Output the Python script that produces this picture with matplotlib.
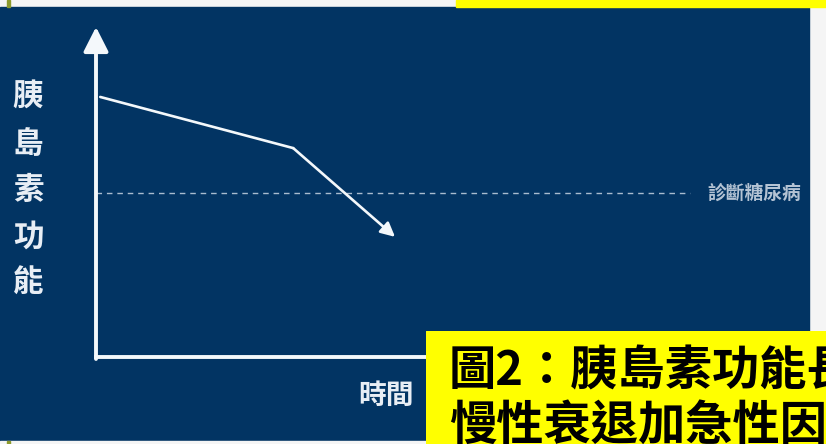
import matplotlib
matplotlib.use("Agg")
import matplotlib.pyplot as plt
from matplotlib.patches import Rectangle

plt.rcParams['font.family'] = ['Noto Sans CJK TC', 'DejaVu Sans']

# data (axis units 0..10)
time = [0.06, 2.77, 4.20]
insulin_function = [7.88, 6.33, 3.64]
diagnosis_level = 4.97
diagnosis_end = 8.34

y_label = "胰島素功能"
x_label = "時間"
threshold_label = "診斷糖尿病"
caption_lines = ["圖2：胰島素功能長期", "慢性衰退加急性因素"]

NAVY = '#023463'
W, H = 826, 444

fig = plt.figure(figsize=(W / 100, H / 100), dpi=100)
fig.patch.set_facecolor('#f5f5f5')

def fx(px):
    return px / W

def fy(py):
    return 1 - py / H

# navy panel
fig.patches.append(Rectangle((0, fy(444)), fx(809), fy(7) - fy(444),
                             transform=fig.transFigure, color=NAVY, zorder=0))
# top strip with yellow box and olive mark
fig.patches.append(Rectangle((fx(456), fy(7)), 1 - fx(456), fy(0) - fy(7),
                             transform=fig.transFigure, color='#ffff00', zorder=0))
fig.patches.append(Rectangle((fx(7), fy(7)), fx(3), fy(0) - fy(7),
                             transform=fig.transFigure, color='#8c9a2c', zorder=0))
fig.patches.append(Rectangle((0, fy(444)), fx(426), fy(441) - fy(444),
                             transform=fig.transFigure, color='#f5f5f5', zorder=1))
fig.patches.append(Rectangle((fx(7), fy(444)), fx(3), fy(441) - fy(444),
                             transform=fig.transFigure, color='#8c9a2c', zorder=1))

# main chart axes
ax = fig.add_axes([fx(96), fy(357), fx(808) - fx(96), fy(27) - fy(357)])
ax.set_zorder(2)
ax.set_facecolor('none')
ax.set_xlim(0, 10)
ax.set_ylim(0, 10)
ax.set_xticks([])
ax.set_yticks([])
for side in ['top', 'right', 'left']:
    ax.spines[side].set_visible(False)
ax.spines['bottom'].set_color('#f4f8fb')
ax.spines['bottom'].set_linewidth(2.8)

# y axis with arrow head
ax.annotate('', xy=(0, 1), xytext=(0, -0.006), xycoords='axes fraction',
            arrowprops=dict(arrowstyle='-|>,head_length=0.75,head_width=0.38',
                            mutation_scale=20, color='#f4f8fb', lw=2.8,
                            shrinkA=0, shrinkB=0), annotation_clip=False)

# threshold
ax.plot([0, diagnosis_end], [diagnosis_level, diagnosis_level], color='#a9bccf',
        lw=1.0, dashes=(4, 3.5))
ax.text(diagnosis_end + 0.25, diagnosis_level, threshold_label, color='#b4c3d4',
        fontsize=13.5, fontweight='bold', va='center', ha='left')

# insulin function curve
ax.plot(time[:2], insulin_function[:2], color='#f4f8fb', lw=1.9,
        solid_capstyle='round')
ax.annotate('', xy=(time[2], insulin_function[2]),
            xytext=(time[1], insulin_function[1]),
            arrowprops=dict(arrowstyle='-|>,head_length=0.5,head_width=0.25',
                            mutation_scale=17, color='#f4f8fb', lw=1.9,
                            shrinkA=0, shrinkB=0))

# axis labels
for i, ch in enumerate(y_label):
    fig.text(fx(28), fy(97 + i * 46.5), ch, color='#e8eef5', fontsize=22,
             fontweight='bold', ha='center', va='center', zorder=3)
fig.text(fx(386), fy(396), x_label, color='#e8eef5', fontsize=20,
         fontweight='bold', ha='center', va='center', zorder=3)

# caption box (text runs past the picture edge and is cut there, as in the source)
cap = fig.add_axes([fx(426), 0, 1 - fx(426), fy(331)])
cap.set_zorder(5)
cap.set_xlim(0, 1)
cap.set_ylim(0, 1)
cap.axis('off')
box = Rectangle((0, 0), 1, 1, transform=cap.transAxes, color='#ffff00')
cap.add_patch(box)
for i, line in enumerate(caption_lines):
    t = cap.text(fx(449), fy(371 + i * 55), line, transform=fig.transFigure,
                 fontsize=34, fontweight='bold', color='black', va='center',
                 ha='left')
    t.set_clip_on(True)
    t.set_clip_box(cap.bbox)

fig.savefig('out.png', dpi=100, facecolor=fig.get_facecolor())
